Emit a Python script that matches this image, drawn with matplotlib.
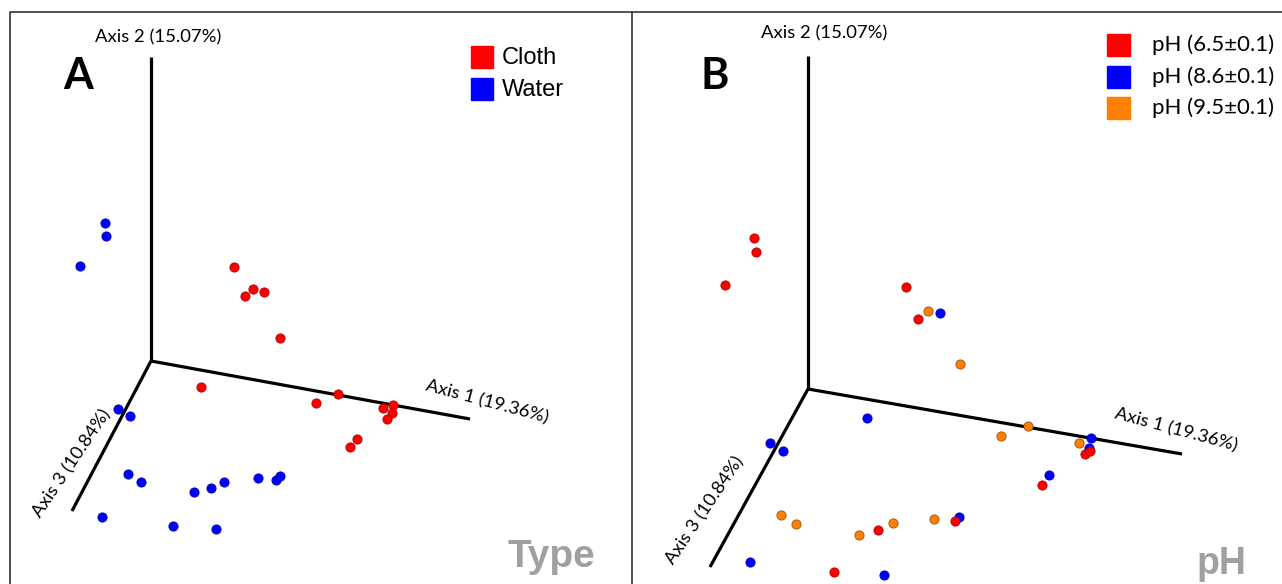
import matplotlib.pyplot as plt
from matplotlib.patches import Rectangle

# PCoA scores as drawn on the page (projected screen coordinates, y down)
# Panel A - sample type
cloth_x = [234, 245, 253, 264, 280, 201, 316, 338, 383, 393, 392, 387, 357, 350]
cloth_y = [267, 296, 289, 292, 338, 387, 403, 394, 408, 405, 413, 419, 439, 447]
water_x = [105, 106, 80, 118, 130, 128, 141, 102, 173, 216, 194, 211, 224, 258, 276, 280]
water_y = [223, 236, 266, 409, 416, 474, 482, 517, 526, 529, 492, 488, 482, 478, 480, 476]

# Panel B - pH
ph65_x = [754, 756, 725, 906, 918, 1085, 1090, 1042, 878, 955, 834]
ph65_y = [238, 252, 285, 287, 319, 454, 451, 485, 530, 521, 572]
ph86_x = [940, 867, 770, 783, 1091, 1089, 1049, 959, 750, 884]
ph86_y = [313, 418, 443, 451, 438, 448, 475, 517, 562, 575]
ph95_x = [928, 960, 1028, 1001, 1079, 781, 796, 859, 893, 934]
ph95_y = [311, 364, 426, 436, 443, 515, 524, 535, 523, 519]

# projected 3D axes: origin, axis1 end, axis2 end, axis3 end
axes_a = {"o": (151, 361), "a1": (470, 419), "a2": (151, 57), "a3": (72, 511)}
axes_b = {"o": (808, 389), "a1": (1182, 454), "a2": (808, 56), "a3": (710, 567)}

labels = ["Axis 1 (19.36%)", "Axis 2 (15.07%)", "Axis 3 (10.84%)"]
type_labels = ["Cloth", "Water"]
ph_labels = ["pH (6.5\u00b10.1)", "pH (8.6\u00b10.1)", "pH (9.5\u00b10.1)"]

RED, BLUE, ORANGE = "#ff0000", "#0000ff", "#ff8000"
narrow = ["Lato", "DejaVu Sans"]

fig = plt.figure(figsize=(12.82, 5.84), dpi=100)
axA = fig.add_axes([0, 0, 632 / 1282, 1])
axB = fig.add_axes([632 / 1282, 0, 650 / 1282, 1])
axA.set_xlim(0, 632)
axB.set_xlim(632, 1282)
for ax in (axA, axB):
    ax.set_ylim(584, 0)
    ax.axis("off")

# frame lines
axA.plot([10, 10, 632, 632], [584, 12, 12, 584], color="#333333", lw=1.2, clip_on=False)
axB.plot([632, 1282], [12, 12], color="#333333", lw=1.2, clip_on=False)


def draw_axes(ax, ax3d, lab_pos):
    o = ax3d["o"]
    for k in ("a1", "a2", "a3"):
        e = ax3d[k]
        ax.plot([o[0], e[0]], [o[1], e[1]], color="black", lw=2.3, solid_capstyle="butt", zorder=1)
    (x1, y1), (x2, y2), (x3, y3) = lab_pos
    ax.text(x1, y1, labels[0], rotation=-15, ha="center", va="center", fontsize=13.3, family=narrow)
    ax.text(x2, y2, labels[1], ha="center", va="center", fontsize=13.3, family=narrow)
    ax.text(x3, y3, labels[2], rotation=56, ha="center", va="center", fontsize=13.3, family=narrow)


def dots(ax, xs, ys, c, ec):
    ax.scatter(xs, ys, s=44, color=c, edgecolors=ec, linewidths=0.6, zorder=3)


# Panel A
draw_axes(axA, axes_a, [(487, 402), (158, 37), (72, 463)])
dots(axA, water_x, water_y, BLUE, "#0000aa")
dots(axA, cloth_x, cloth_y, RED, "#aa0000")
axA.text(63, 89, "A", fontsize=31, fontweight="bold", va="baseline", ha="left", family=narrow)
for i, (lab, c) in enumerate(zip(type_labels, [RED, BLUE])):
    yc = 57 + 32 * i
    axA.add_patch(Rectangle((471, yc - 11), 22, 22, color=c))
    axA.text(502, yc + 1, lab, fontsize=17, va="center", ha="left", family="Liberation Sans")
axA.text(551, 567, "Type", fontsize=28, fontweight="bold", color="#a0a0a0",
         ha="center", va="baseline", family="Liberation Sans")

# Panel B
draw_axes(axB, axes_b, [(1176, 430), (824, 33), (705, 510)])
dots(axB, ph95_x, ph95_y, ORANGE, "#a05000")
dots(axB, ph86_x, ph86_y, BLUE, "#0000aa")
dots(axB, ph65_x, ph65_y, RED, "#aa0000")
axB.text(700, 89, "B", fontsize=31, fontweight="bold", va="baseline", ha="left", family=narrow)
for i, (lab, c) in enumerate(zip(ph_labels, [RED, BLUE, ORANGE])):
    yc = 45 + 31.5 * i
    axB.add_patch(Rectangle((1107, yc - 11), 23, 22, color=c))
    axB.text(1152, yc, lab, fontsize=16, va="center", ha="left", family=narrow)
axB.text(1221, 574, "pH", fontsize=27, fontweight="bold", color="#a0a0a0",
         ha="center", va="baseline", family="Liberation Sans")

fig.savefig("out.png", dpi=100)
